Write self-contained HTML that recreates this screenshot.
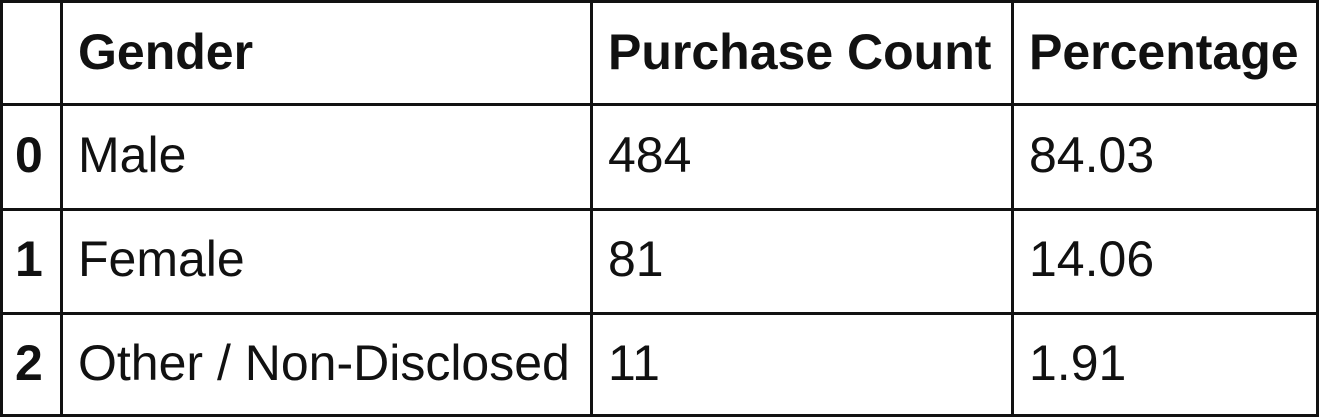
<!DOCTYPE html>
<html><head><meta charset="utf-8"><style>
html,body{margin:0;padding:0;background:#fff;width:1322px;height:420px;overflow:hidden}
.l{position:absolute;background:#111}
.c{position:absolute;font-family:"Liberation Sans",sans-serif;font-size:50px;color:#111;line-height:1;white-space:nowrap}
.b{font-weight:bold}
</style></head><body>
<div style="position:relative;width:1322px;height:420px">
<div class="l" style="left:0;top:0;width:1319px;height:3px"></div>
<div class="l" style="left:0;top:414px;width:1319px;height:3px"></div>
<div class="l" style="left:0;top:0;width:3px;height:417px"></div>
<div class="l" style="left:1316px;top:0;width:3px;height:417px"></div>
<div class="l" style="left:60px;top:0;width:3px;height:417px"></div>
<div class="l" style="left:590px;top:0;width:3px;height:417px"></div>
<div class="l" style="left:1011px;top:0;width:3px;height:417px"></div>
<div class="l" style="left:0;top:103px;width:1319px;height:3px"></div>
<div class="l" style="left:0;top:208px;width:1319px;height:3px"></div>
<div class="l" style="left:0;top:312px;width:1319px;height:3px"></div>

<div class="c b" style="left:78px;top:27px">Gender</div>
<div class="c b" style="left:608px;top:27px">Purchase Count</div>
<div class="c b" style="left:1029px;top:27px">Percentage</div>

<div class="c b" style="left:15px;top:130px">0</div>
<div class="c" style="left:78px;top:130px">Male</div>
<div class="c" style="left:608px;top:130px">484</div>
<div class="c" style="left:1029px;top:130px">84.03</div>

<div class="c b" style="left:15px;top:234px">1</div>
<div class="c" style="left:78px;top:234px">Female</div>
<div class="c" style="left:608px;top:234px">81</div>
<div class="c" style="left:1029px;top:234px">14.06</div>

<div class="c b" style="left:15px;top:338px">2</div>
<div class="c" style="left:78px;top:338px">Other / Non-Disclosed</div>
<div class="c" style="left:608px;top:338px">11</div>
<div class="c" style="left:1029px;top:338px">1.91</div>
</div>
</body></html>
